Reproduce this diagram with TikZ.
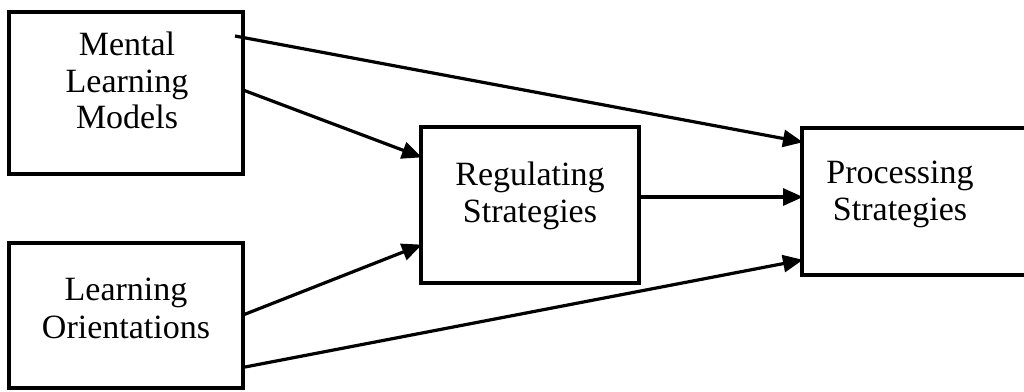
\documentclass[tikz,border=0pt]{standalone}
\usepackage{fontspec}
\setmainfont{Liberation Serif}
\usetikzlibrary{arrows.meta,calc}
\begin{document}
\begin{tikzpicture}[x=1pt,y=-1pt,
  box/.style={draw=black,line width=3.2pt,fill=none,inner sep=0pt,outer sep=0pt},
  word/.style={anchor=base,inner sep=0pt,font=\fontsize{34}{37}\selectfont},
  arr/.style={line width=3.2pt,-{Triangle[length=20pt,width=17pt]},shorten >=-1pt}]
  \useasboundingbox (0,0) rectangle (1024,391);
  \begin{scope}
    \clip (0,0) rectangle (1024,391);
    % boxes
    \node[box,minimum width=234pt,minimum height=162pt] (mlm) at (126,93) {};
    \node[box,minimum width=234pt,minimum height=145pt] (lo) at (126,315.5) {};
    \node[box,minimum width=218pt,minimum height=156pt] (rs) at (530,205) {};
    \node[box,minimum width=233pt,minimum height=147pt] (ps) at (918.5,201.5) {};
  \end{scope}
  % labels
  \node[word] (mlm1) at (127,55) {Mental};
  \node[word] (mlm2) at (127,92) {Learning};
  \node[word] (mlm3) at (127,128) {Models};
  \node[word] (lo1) at (126,300) {Learning};
  \node[word] (lo2) at (126,338) {Orientations};
  \node[word] (rs1) at (530,185) {Regulating};
  \node[word] (rs2) at (530,222) {Strategies};
  \node[word] (ps1) at (900,183) {Processing};
  \node[word] (ps2) at (900,220) {Strategies};
  % connectors
  \draw[arr] ($(mlm.north east)+(-8,24)$) -- ($(ps.north west)+(0,14)$);
  \draw[arr] ($(mlm.north east)+(0,78)$) -- ($(rs.north west)+(0,30)$);
  \draw[arr] ($(lo.north east)+(0,72)$) -- ($(rs.north west)+(0,118)$);
  \draw[arr] ($(lo.north east)+(2,124)$) -- ($(ps.north west)+(0,132)$);
  \draw[arr] ($(rs.north east)+(0,70)$) -- ($(ps.north west)+(0,69)$);
\end{tikzpicture}
\end{document}
